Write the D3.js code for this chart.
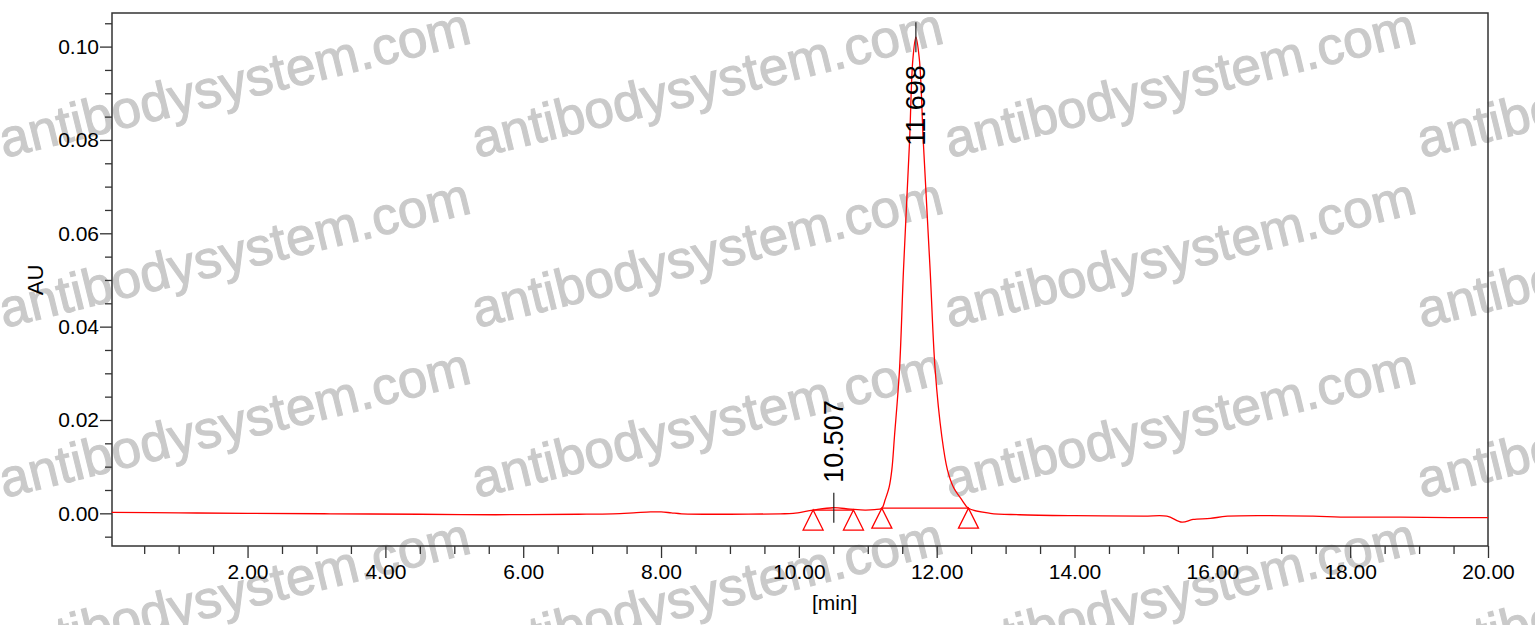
<!DOCTYPE html>
<html>
<head>
<meta charset="utf-8">
<script src="https://cdn.jsdelivr.net/npm/d3@7"></script>
<style>
  html, body { margin: 0; padding: 0; background: #fff; }
  svg { display: block; font-family: "Liberation Sans", Arial, sans-serif; }
</style>
</head>
<body>
<svg id="chart" width="1535" height="625"></svg>
<script>
// ---- data ----
const times = [0.03, 1.0, 2.0, 3.2, 4.5, 5.6, 6.8, 7.3, 7.6, 7.85, 8.0, 8.15, 8.3, 9.0, 9.73, 9.92,
  10.207, 10.497, 10.744, 10.96, 11.1, 11.204, 11.252, 11.31, 11.349, 11.387, 11.46, 11.518, 11.605,
  11.654, 11.698, 11.749, 11.807, 11.905, 11.978, 12.075, 12.156, 12.243, 12.365, 12.461, 12.776,
  13.2, 14.0, 15.0, 15.34, 15.56, 15.72, 15.97, 16.22, 17.46, 17.86, 18.73, 19.45, 20.0];
const absorbance = [0.0002, 0.0001, 0.0, -0.0001, -0.0002, -0.0003, -0.0002, -0.0001, 0.0001, 0.0003, 0.0003,
  0.0001, -0.0001, -0.0002, -0.0001, 0.0,
  0.0007, 0.0012, 0.0009, 0.0007, 0.0008, 0.0011, 0.0029, 0.0056, 0.0093, 0.0164, 0.0307, 0.0521, 0.0793,
  0.0972, 0.1020, 0.0972, 0.0793, 0.0521, 0.0307, 0.0164, 0.0093, 0.0056, 0.0029, 0.0011, 0.0,
  -0.0003, -0.0005, -0.0006, -0.0006, -0.0019, -0.0013, -0.0011, -0.0006, -0.0006, -0.0008,
  -0.0008, -0.0009, -0.0009];

const peakTimes = [10.507, 11.698];
const peakValues = [0.0012, 0.1020];
const peakLabels = ["10.507", "11.698"];

const markerTimes = [10.207, 10.792, 11.204, 12.461];
const markerValues = [0.0007, 0.0007, 0.0011, 0.0011];
const baselinePairs = [[0, 1], [2, 3]];

const xMajorTicks = [2, 4, 6, 8, 10, 12, 14, 16, 18, 20];
const xTickLabels = ["2.00", "4.00", "6.00", "8.00", "10.00", "12.00", "14.00", "16.00", "18.00", "20.00"];
const yMajorTicks = [0.00, 0.02, 0.04, 0.06, 0.08, 0.10];
const yTickLabels = ["0.00", "0.02", "0.04", "0.06", "0.08", "0.10"];
const xTitle = "[min]";
const yTitle = "AU";
const watermarkText = "antibodysystem.com";

// ---- layout ----
const svg = d3.select("#chart");
const L = 112, R = 1488, T = 13, B = 546;
const x = d3.scaleLinear().domain([0.033, 20]).range([L, R]);
const y = d3.scaleLinear().domain([-0.0070, 0.1072]).range([B, T]);

// ---- watermark ----
const wm = svg.append("g");
for (let c = 0; c < 4; c++) {
  for (let r = 0; r < 4; r++) {
    const wx = 4 + c * 472.7, wy = 158 + r * 170;
    wm.append("text")
      .attr("transform", `translate(${wx},${wy}) rotate(-13.8)`)
      .attr("font-size", 53)
      .attr("fill", "#cacaca")
      .attr("stroke", "#cacaca")
      .attr("stroke-width", 1.1)
      .text(watermarkText);
  }
}

// ---- axes ----
const axisColor = "#333";
const yMinor = d3.range(-0.005, 0.1051, 0.005).filter(v => !yMajorTicks.some(m => Math.abs(m - v) < 1e-6));
const xMinor = d3.range(0.5, 20.01, 0.5).filter(v => !xMajorTicks.some(m => Math.abs(m - v) < 1e-6));

const gy = svg.append("g").attr("transform", `translate(${L},0)`)
  .call(d3.axisLeft(y).tickValues(yMajorTicks).tickSize(12).tickPadding(1)
    .tickFormat((d, i) => yTickLabels[i]));
gy.select(".domain").remove();
gy.selectAll("line").attr("stroke", axisColor).attr("stroke-width", 1.3);
gy.selectAll("text").attr("font-size", 21).attr("fill", "#000").attr("font-family", "Liberation Sans, Arial, sans-serif");

const gym = svg.append("g").attr("transform", `translate(${L},0)`)
  .call(d3.axisLeft(y).tickValues(yMinor).tickSize(7).tickFormat(""));
gym.select(".domain").remove();
gym.selectAll("line").attr("stroke", axisColor).attr("stroke-width", 1.3);

const gx = svg.append("g").attr("transform", `translate(0,${B})`)
  .call(d3.axisBottom(x).tickValues(xMajorTicks).tickSize(12).tickPadding(6)
    .tickFormat((d, i) => xTickLabels[i]));
gx.select(".domain").remove();
gx.selectAll("line").attr("stroke", axisColor).attr("stroke-width", 1.3);
gx.selectAll("text").attr("font-size", 21).attr("fill", "#000").attr("font-family", "Liberation Sans, Arial, sans-serif");

const gxm = svg.append("g").attr("transform", `translate(0,${B})`)
  .call(d3.axisBottom(x).tickValues(xMinor).tickSize(8).tickFormat(""));
gxm.select(".domain").remove();
gxm.selectAll("line").attr("stroke", axisColor).attr("stroke-width", 1.3);

// frame
svg.append("rect").attr("x", L).attr("y", T).attr("width", R - L).attr("height", B - T)
  .attr("fill", "none").attr("stroke", axisColor).attr("stroke-width", 1.5);

// titles
svg.append("text").attr("x", x(10.52)).attr("y", 610)
  .attr("text-anchor", "middle").attr("font-size", 21).text(xTitle);
svg.append("text").attr("transform", `translate(43,280) rotate(-90)`)
  .attr("text-anchor", "middle").attr("font-size", 22).text(yTitle);

// ---- signal ----
const pts = times.map((t, i) => [t, absorbance[i]]);
const line = d3.line().x(d => x(d[0])).y(d => y(d[1])).curve(d3.curveCatmullRom.alpha(0.5));
svg.append("path").datum(pts).attr("d", line)
  .attr("fill", "none").attr("stroke", "#ff0000").attr("stroke-width", 1.3);

// integration baselines
baselinePairs.forEach(([a, b]) => {
  svg.append("line")
    .attr("x1", x(markerTimes[a])).attr("y1", y(markerValues[a]))
    .attr("x2", x(markerTimes[b])).attr("y2", y(markerValues[b]))
    .attr("stroke", "#ff0000").attr("stroke-width", 1.2);
});

// markers (triangles)
svg.selectAll("path.tri").data(markerTimes).enter().append("path")
  .attr("class", "tri")
  .attr("d", (t, i) => {
    const cx = x(t), cy = y(markerValues[i]);
    return `M${cx},${cy} L${cx + 10},${cy + 20} L${cx - 10},${cy + 20} Z`;
  })
  .attr("fill", "none").attr("stroke", "#ff0000").attr("stroke-width", 1.3);

// peak labels
peakTimes.forEach((t, i) => {
  const px = x(t), py = y(peakValues[i]);
  svg.append("line").attr("x1", px).attr("x2", px).attr("y1", py - 15).attr("y2", py + 15)
    .attr("stroke", "#222").attr("stroke-width", 1.2);
  const fitsAbove = (py - 15 - 10 - 85) > T;
  const ty = fitsAbove ? py - 25 : py + 28;
  svg.append("text")
    .attr("transform", `translate(${px},${ty}) rotate(-90)`)
    .attr("dy", "0.35em")
    .attr("text-anchor", fitsAbove ? "start" : "end")
    .attr("font-size", 27).attr("fill", "#000")
    .text(peakLabels[i]);
});
</script>
</body>
</html>
